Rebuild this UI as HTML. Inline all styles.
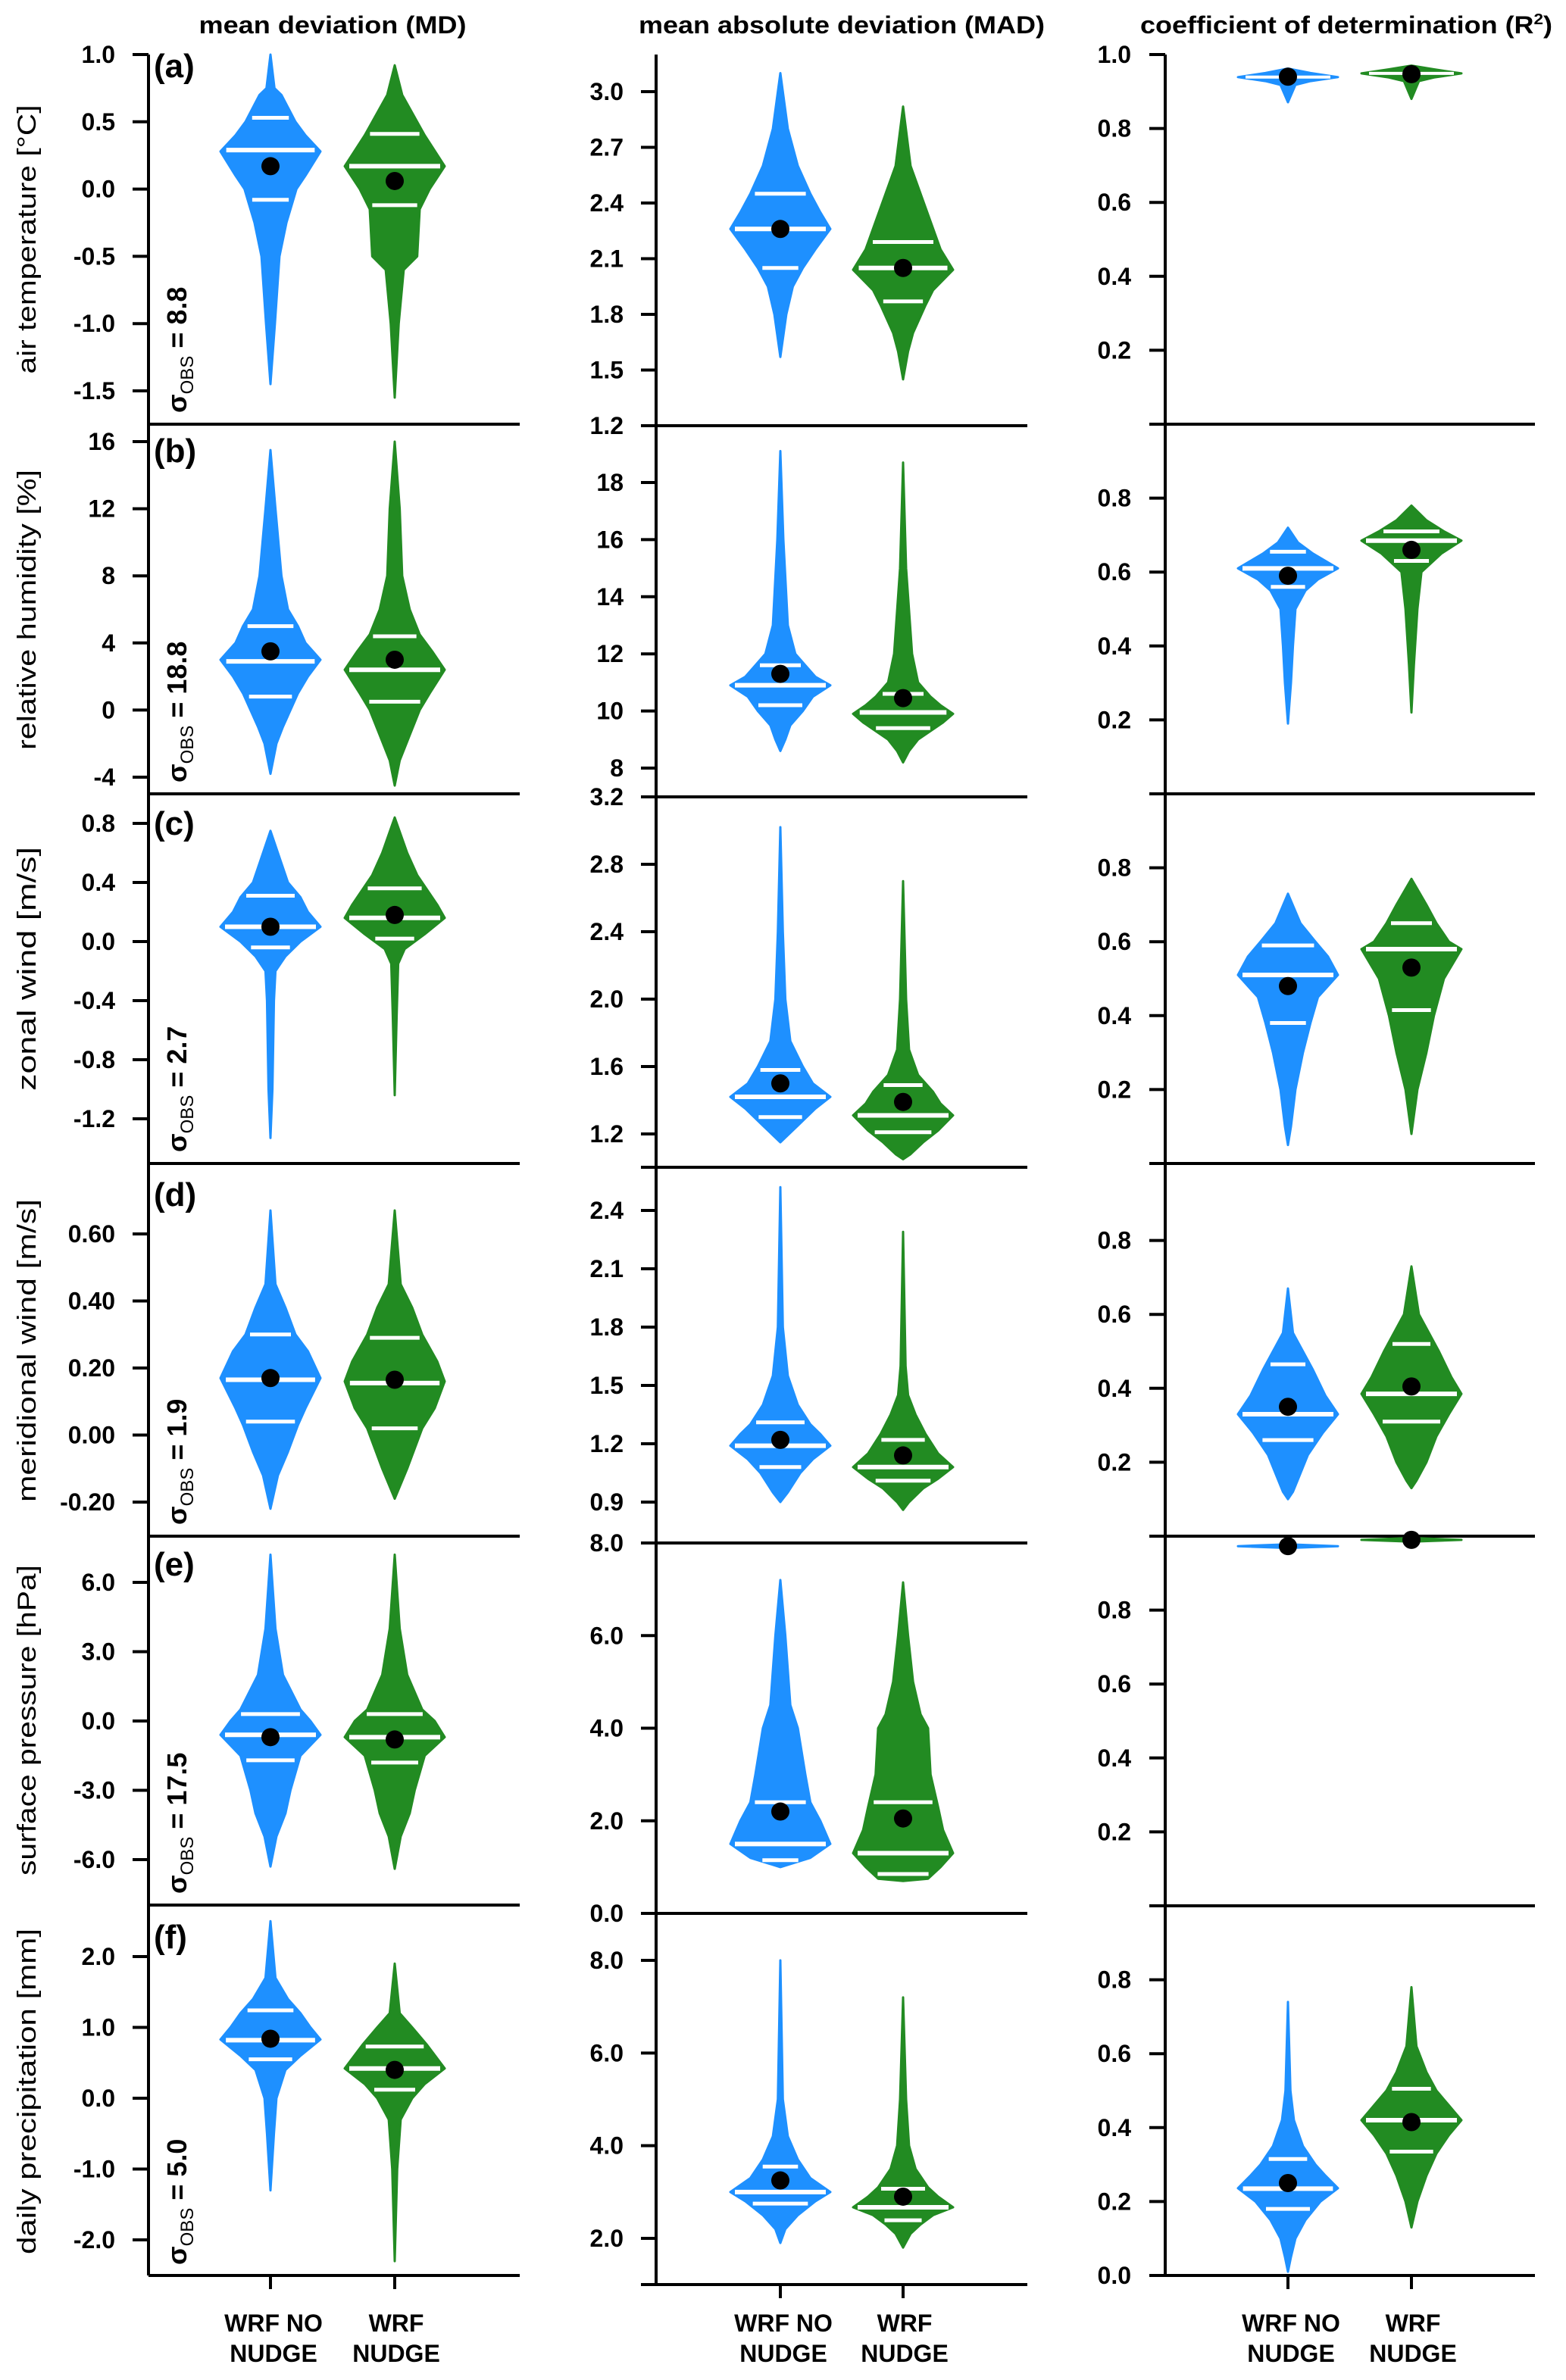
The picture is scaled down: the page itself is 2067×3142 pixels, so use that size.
<!DOCTYPE html>
<html><head><meta charset="utf-8"><style>
html,body{margin:0;padding:0;background:#fff}
svg{display:block}
text{font-family:"Liberation Sans",Arial,sans-serif}
</style></head><body>
<svg id="fig" xmlns="http://www.w3.org/2000/svg" width="2067" height="3142" viewBox="0 0 2067 3142">
<rect width="2067" height="3142" fill="#fff"/>
<text x="439" y="44" text-anchor="middle" font-size="32" font-weight="bold" textLength="353" lengthAdjust="spacingAndGlyphs">mean deviation (MD)</text>
<text x="1111" y="44" text-anchor="middle" font-size="32" font-weight="bold" textLength="536" lengthAdjust="spacingAndGlyphs">mean absolute deviation (MAD)</text>
<text x="1777" y="44" text-anchor="middle" font-size="32" font-weight="bold" textLength="544" lengthAdjust="spacingAndGlyphs">coefficient of determination (R<tspan font-size="20" dy="-12">2</tspan><tspan dy="12">)</tspan></text>
<g id="layer"></g>
</svg>
<script>
const rowTitles=["air temperature [°C]","relative humidity [%]","zonal wind [m/s]","meridional wind [m/s]","surface pressure [hPa]","daily precipitation [mm]"];
const panelLetters=["(a)","(b)","(c)","(d)","(e)","(f)"];
const sigmaObs=["8.8","18.8","2.7","1.9","17.5","5.0"];
const categories=["WRF NO|NUDGE","WRF|NUDGE"];

const ticksMD=[["1.0","0.5","0.0","-0.5","-1.0","-1.5"],["16","12","8","4","0","-4"],["0.8","0.4","0.0","-0.4","-0.8","-1.2"],["0.60","0.40","0.20","0.00","-0.20"],["6.0","3.0","0.0","-3.0","-6.0"],["2.0","1.0","0.0","-1.0","-2.0"]];
const ticksMAD=[["3.0","2.7","2.4","2.1","1.8","1.5","1.2"],["18","16","14","12","10","8"],["3.2","2.8","2.4","2.0","1.6","1.2"],["2.4","2.1","1.8","1.5","1.2","0.9"],["8.0","6.0","4.0","2.0","0.0"],["8.0","6.0","4.0","2.0"]];
const ticksR2=[["1.0","0.8","0.6","0.4","0.2"],["0.8","0.6","0.4","0.2"],["0.8","0.6","0.4","0.2"],["0.8","0.6","0.4","0.2"],["0.8","0.6","0.4","0.2"],["0.8","0.6","0.4","0.2","0.0"]];

// violin density profiles: [value, relative width]
const mdBlueProfiles=[
[[1.0,0],[0.75,0.08],[0.7,0.22],[0.5,0.5],[0.4,0.7],[0.28,1],[0.1,0.7],[0,0.52],[-0.25,0.32],[-0.5,0.18],[-1.0,0.09],[-1.45,0]],
[[15.5,0],[12,0.1],[8,0.22],[6,0.35],[5,0.55],[4,0.7],[3,1],[2,0.75],[1,0.55],[0,0.4],[-1,0.25],[-2,0.12],[-3.8,0]],
[[0.75,0],[0.55,0.2],[0.4,0.35],[0.3,0.6],[0.2,0.75],[0.1,1],[0,0.6],[-0.1,0.3],[-0.2,0.1],[-0.4,0.07],[-1.0,0.04],[-1.33,0]],
[[0.67,0],[0.45,0.1],[0.38,0.3],[0.3,0.5],[0.25,0.75],[0.17,1],[0.08,0.7],[0.03,0.55],[-0.05,0.35],[-0.12,0.15],[-0.22,0]],
[[7.2,0],[4,0.1],[2,0.25],[0.5,0.6],[0,0.8],[-0.6,1],[-1.5,0.6],[-3,0.4],[-4,0.3],[-5,0.12],[-6.3,0]],
[[2.5,0],[1.7,0.1],[1.4,0.35],[1.2,0.6],[1.0,0.8],[0.83,1],[0.6,0.6],[0.4,0.3],[0,0.12],[-0.5,0.07],[-1.3,0]]];
const mdBlueStats=[[-0.08,0.29,0.53,0.17],[0.8,2.9,5.0,3.5],[-0.04,0.1,0.31,0.1],[0.04,0.165,0.3,0.17],[-1.7,-0.6,0.3,-0.7],[0.55,0.82,1.24,0.84]];
const mdGreenProfiles=[
[[0.92,0],[0.7,0.15],[0.5,0.45],[0.4,0.6],[0.17,1],[0,0.7],[-0.15,0.5],[-0.5,0.45],[-0.6,0.18],[-1.0,0.08],[-1.55,0]],
[[16,0],[12,0.1],[8,0.15],[6,0.3],[4.5,0.5],[3.5,0.75],[2.4,1],[1,0.7],[0,0.5],[-1.5,0.3],[-3,0.1],[-4.5,0]],
[[0.84,0],[0.6,0.25],[0.45,0.45],[0.35,0.65],[0.25,0.85],[0.16,1],[0.05,0.6],[-0.05,0.2],[-0.15,0.07],[-0.5,0.04],[-1.04,0]],
[[0.67,0],[0.45,0.12],[0.38,0.35],[0.3,0.55],[0.22,0.85],[0.16,1],[0.08,0.8],[0.02,0.55],[-0.1,0.25],[-0.19,0]],
[[7.2,0],[4,0.1],[2,0.25],[0.5,0.55],[0,0.8],[-0.7,1],[-1.5,0.6],[-3,0.4],[-4,0.3],[-5,0.12],[-6.4,0]],
[[1.9,0],[1.2,0.1],[1.0,0.35],[0.75,0.65],[0.42,1],[0.2,0.6],[0,0.35],[-0.3,0.12],[-1.0,0.05],[-2.3,0]]];
const mdGreenStats=[[-0.12,0.17,0.41,0.06],[0.5,2.4,4.4,3.0],[0.02,0.16,0.36,0.18],[0.02,0.155,0.29,0.165],[-1.8,-0.7,0.3,-0.8],[0.12,0.42,0.73,0.4]];

const madBlueProfiles=[
[[3.1,0],[2.8,0.15],[2.6,0.35],[2.45,0.6],[2.35,0.8],[2.26,1],[2.15,0.7],[2.05,0.45],[1.95,0.25],[1.8,0.12],[1.57,0]],
[[19.1,0],[16,0.06],[13,0.15],[12,0.3],[11.6,0.5],[11.2,0.7],[10.9,1],[10.5,0.65],[10,0.45],[9.5,0.2],[9,0.1],[8.6,0]],
[[3.02,0],[2.4,0.05],[2.0,0.1],[1.75,0.2],[1.6,0.45],[1.5,0.65],[1.42,1],[1.35,0.7],[1.25,0.35],[1.15,0]],
[[2.52,0],[1.8,0.05],[1.55,0.15],[1.4,0.35],[1.3,0.6],[1.25,0.8],[1.19,1],[1.12,0.65],[1.05,0.4],[0.95,0.15],[0.9,0]],
[[7.2,0],[6,0.1],[4.5,0.2],[4.0,0.35],[3,0.5],[2.4,0.6],[2,0.8],[1.5,1],[1.2,0.6],[1.0,0]],
[[8,0],[5,0.05],[4.2,0.15],[3.7,0.35],[3.3,0.6],[3.0,1],[2.8,0.7],[2.5,0.35],[2.2,0.1],[1.9,0]]];
const madBlueStats=[[2.05,2.26,2.45,2.26],[10.2,10.9,11.6,11.3],[1.3,1.42,1.58,1.5],[1.08,1.19,1.31,1.22],[1.15,1.5,2.4,2.2],[2.75,3.0,3.55,3.25]];
const madGreenProfiles=[
[[2.92,0],[2.6,0.15],[2.45,0.35],[2.3,0.55],[2.15,0.75],[2.04,1],[1.93,0.6],[1.85,0.45],[1.7,0.2],[1.6,0.1],[1.45,0]],
[[18.7,0],[15,0.06],[12,0.18],[11,0.3],[10.5,0.55],[10.2,0.75],[9.9,1],[9.6,0.8],[9.3,0.55],[9,0.3],[8.6,0.12],[8.2,0]],
[[2.7,0],[2.0,0.06],[1.7,0.12],[1.55,0.3],[1.45,0.6],[1.38,0.75],[1.31,1],[1.22,0.7],[1.15,0.4],[1.08,0.15],[1.05,0]],
[[2.29,0],[1.6,0.05],[1.45,0.1],[1.35,0.25],[1.25,0.45],[1.15,0.7],[1.08,1],[1.02,0.7],[0.97,0.4],[0.9,0.12],[0.86,0]],
[[7.15,0],[6,0.1],[5,0.2],[4.3,0.35],[4.0,0.5],[3,0.55],[2.3,0.7],[1.8,0.8],[1.3,1],[1.0,0.75],[0.75,0.5],[0.7,0]],
[[7.2,0],[5,0.06],[4,0.12],[3.5,0.25],[3.1,0.5],[2.9,0.7],[2.67,1],[2.5,0.6],[2.3,0.35],[2.1,0.15],[1.8,0]]];
const madGreenStats=[[1.87,2.05,2.19,2.05],[9.4,9.95,10.6,10.45],[1.21,1.31,1.49,1.39],[1.01,1.08,1.22,1.14],[0.85,1.3,2.4,2.05],[2.39,2.67,3.07,2.9]];

const r2BlueProfiles=[
[[0.962,0],[0.95,0.45],[0.939,1],[0.928,0.45],[0.918,0.15],[0.871,0]],
[[0.72,0],[0.68,0.2],[0.65,0.5],[0.63,0.75],[0.61,1],[0.58,0.6],[0.55,0.35],[0.5,0.15],[0.4,0.1],[0.3,0.06],[0.19,0]],
[[0.73,0],[0.65,0.25],[0.6,0.55],[0.56,0.8],[0.51,1],[0.45,0.6],[0.38,0.45],[0.3,0.3],[0.2,0.15],[0.1,0.06],[0.05,0]],
[[0.67,0],[0.55,0.1],[0.5,0.3],[0.45,0.5],[0.38,0.75],[0.33,1],[0.28,0.7],[0.22,0.4],[0.17,0.25],[0.12,0.1],[0.1,0]],
[[0.978,0],[0.973,1],[0.968,0]],
[[0.74,0],[0.5,0.05],[0.42,0.12],[0.35,0.3],[0.3,0.55],[0.27,0.75],[0.236,1],[0.2,0.65],[0.15,0.35],[0.1,0.15],[0.05,0.06],[0.01,0]]];
const r2BlueStats=[[0.936,0.939,0.942,0.94],[0.56,0.61,0.655,0.59],[0.38,0.51,0.59,0.48],[0.26,0.33,0.465,0.35],[0.972,0.973,0.974,0.973],[0.18,0.235,0.315,0.25]];
const r2GreenProfiles=[
[[0.97,0],[0.96,0.45],[0.949,1],[0.938,0.45],[0.928,0.15],[0.88,0]],
[[0.78,0],[0.74,0.3],[0.71,0.65],[0.685,1],[0.65,0.6],[0.6,0.2],[0.5,0.12],[0.35,0.05],[0.22,0]],
[[0.77,0],[0.7,0.3],[0.65,0.5],[0.6,0.75],[0.58,1],[0.5,0.65],[0.4,0.45],[0.3,0.3],[0.2,0.12],[0.08,0]],
[[0.73,0],[0.6,0.15],[0.55,0.35],[0.5,0.55],[0.43,0.8],[0.385,1],[0.33,0.75],[0.27,0.5],[0.2,0.3],[0.15,0.1],[0.13,0]],
[[0.995,0],[0.99,1],[0.985,0]],
[[0.78,0],[0.62,0.1],[0.55,0.3],[0.5,0.5],[0.46,0.75],[0.42,1],[0.38,0.75],[0.33,0.5],[0.27,0.3],[0.2,0.12],[0.13,0]]];
const r2GreenStats=[[0.946,0.949,0.952,0.947],[0.63,0.685,0.71,0.66],[0.415,0.58,0.65,0.53],[0.31,0.385,0.52,0.405],[0.989,0.99,0.991,0.99],[0.335,0.42,0.505,0.415]];

const NS="http://www.w3.org/2000/svg";
const layer=document.getElementById('layer');
function mk(tag,attrs,parent){const e=document.createElementNS(NS,tag);for(const k in attrs)e.setAttribute(k,attrs[k]);(parent||layer).appendChild(e);return e;}
const BLUE="#1E90FF",GREEN="#228B22",HW=66;
const cols=[
 {key:'md',axisX:196,lineX0:196,lineX1:686,centers:[357,521],labelX:152,tick0:175,refs:[[1.0,72,-1.5,516],[16,583,-4,1026],[0.8,1087,-1.2,1477],[0.6,1629,-0.2,1983],[6,2089,-6,2455],[2,2583,-2,2957]],bottoms:[560,1048,1536,2028,2515,3004],ticks:ticksMD,series:[[mdBlueProfiles,mdBlueStats],[mdGreenProfiles,mdGreenStats]]},
 {key:'mad',axisX:866,lineX0:846,lineX1:1356,centers:[1030,1192],labelX:823,tick0:846,refs:[[3.0,121,1.2,562],[18,637,8,1014],[3.2,1052,1.2,1497],[2.4,1598,0.9,1983],[8,2037,0,2526],[8,2588,2,2955]],bottoms:[562,1052,1541,2037,2526,3016],ticks:ticksMAD,series:[[madBlueProfiles,madBlueStats],[madGreenProfiles,madGreenStats]]},
 {key:'r2',axisX:1538,lineX0:1517,lineX1:2026,centers:[1700,1863],labelX:1493,tick0:1517,refs:[[1,72,0,560],[1,560,0,1048],[1,1048,0,1536],[1,1540,0,2028],[1,2028,0,2516],[1,2516,0,3004]],bottoms:[560,1048,1536,2028,2516,3004],ticks:ticksR2,series:[[r2BlueProfiles,r2BlueStats],[r2GreenProfiles,r2GreenStats]]}
];
const rowKeys=['a','b','c','d','e','f'];
const letterY=[102,610,1102,1592,2080,2572];
const titleLen=[355,370,322,400,410,430];
const titleCY=[316,805,1279,1783,2271,2761];
const sigmaStart=[545,1033,1521,2013,2500,2990];

function yScale(ref){const[v1,p1,v2,p2]=ref;return v=>p1+(v-v1)*(p2-p1)/(v2-v1);}
function densAt(prof,v){for(let i=0;i<prof.length-1;i++){const a=prof[i],b=prof[i+1];if(v<=a[0]&&v>=b[0]){const t=(a[0]-v)/(a[0]-b[0]||1);return a[1]+(b[1]-a[1])*t;}}return 0;}

cols.forEach((c,ci)=>{
  const axis=mk('line',{x1:c.axisX,y1:72,x2:c.axisX,y2:c.bottoms[5],stroke:'#000','stroke-width':4});
  
  
  for(let r=0;r<6;r++){
    const y=yScale(c.refs[r]);
    const g=mk('g',{});
    
    
    const bl=mk('line',{x1:c.lineX0,y1:c.bottoms[r],x2:c.lineX1,y2:c.bottoms[r],stroke:'#000','stroke-width':4},g);
    
    
    c.ticks[r].forEach(lbl=>{
      const v=parseFloat(lbl),py=y(v);
      const t=mk('line',{x1:c.tick0,y1:py,x2:c.axisX,y2:py,stroke:'#000','stroke-width':4},g);
      
      
      const tx=mk('text',{x:c.labelX,y:py+11,'text-anchor':'end','font-size':32,'font-weight':'bold'},g);
      
      
      tx.textContent=lbl;
    });
    c.series.forEach((s,si)=>{
      const prof=s[0][r],st=s[1][r],cx=c.centers[si],col=si?GREEN:BLUE;
      let right=[],left=[];
      prof.forEach(p=>{right.push([cx+HW*p[1],y(p[0])]);left.push([cx-HW*p[1],y(p[0])]);});
      const pts=right.concat(left.reverse()).map(p=>p[0].toFixed(1)+','+p[1].toFixed(1)).join(' ');
      const vg=mk('g',{},g);
      
      
      const poly=mk('polygon',{points:pts,fill:col,stroke:col,'stroke-width':3,'stroke-linejoin':'round'},vg);
      
      
      const span=Math.abs(y(prof[0][0])-y(prof[prof.length-1][0]));
      if(span>20){
        const thin=span<60;
        [[st[0],5],[st[1],6],[st[2],5]].forEach((q,qi)=>{
          if(thin&&qi!==1)return;
          const w=HW*densAt(prof,q[0])-(thin?10:6);
          if(w>2){const ql=mk('line',{x1:cx-w,y1:y(q[0]),x2:cx+w,y2:y(q[0]),stroke:'#fff','stroke-width':thin?4:q[1]},vg);
          
          }
        });
      }
      const dot=mk('ellipse',{cx:cx,cy:y(st[3]),rx:12,ry:12,fill:'#000'},vg);
      
      
    });
    if(ci===0){
      const lt=mk('text',{x:203,y:letterY[r],'font-size':44,'font-weight':'bold'},g);
      
      
      lt.textContent=panelLetters[r];
      const yt=mk('text',{x:0,y:0,'font-size':34,'text-anchor':'middle',transform:'translate(47,'+titleCY[r]+') rotate(-90)',textLength:titleLen[r],lengthAdjust:'spacingAndGlyphs'},g);
      
      
      yt.textContent=rowTitles[r];
      const sg=mk('text',{x:0,y:0,'font-size':36,'font-weight':'bold',transform:'translate(246,'+sigmaStart[r]+') rotate(-90)'},g);
      
      
      sg.innerHTML='σ<tspan font-size="24" font-weight="normal" dy="9">OBS</tspan><tspan dy="-9"> = '+sigmaObs[r]+'</tspan>';
    }
  }
  const by=c.bottoms[5];
  categories.forEach((cat,k)=>{
    const cx=c.centers[k];
    const t=mk('line',{x1:cx,y1:by,x2:cx,y2:by+18,stroke:'#000','stroke-width':4});
    
    
    const parts=cat.split('|');
    parts.forEach((p,j)=>{
      const tx=mk('text',{x:cx+(k?2:4),y:3078+j*40,'text-anchor':'middle','font-size':32,'font-weight':'bold'});
      
      
      tx.textContent=p;
    });
  });
});
</script>
</body></html>
